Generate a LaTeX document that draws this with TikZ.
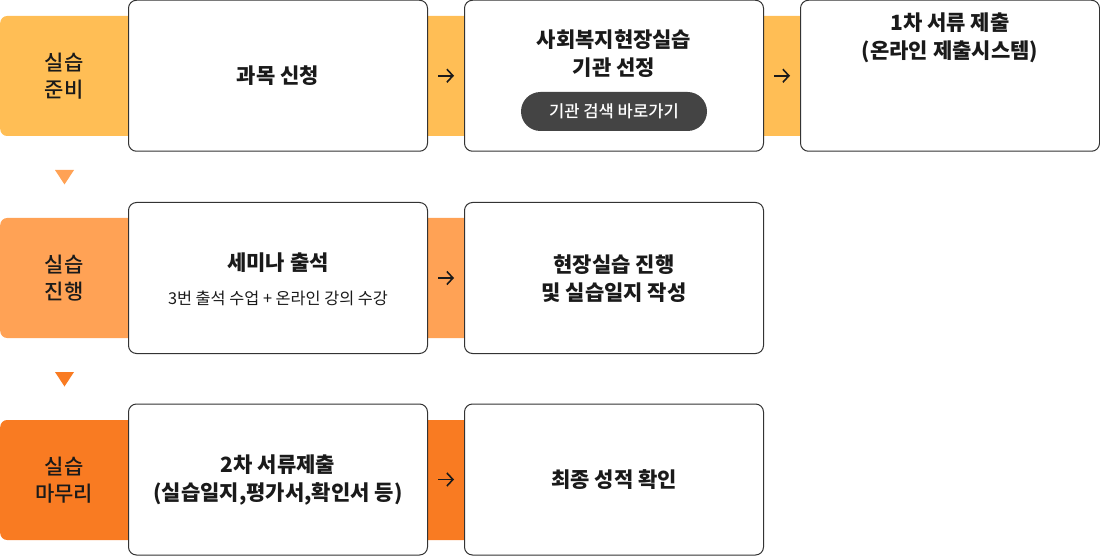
\documentclass[tikz,border=0pt]{standalone}
\usepackage{fontspec}
\setmainfont{Noto Sans CJK KR}
\newfontfamily\medfont{Noto Sans CJK KR Medium}
\usetikzlibrary{arrows.meta}
\definecolor{cA}{HTML}{FFBE55}
\definecolor{cB}{HTML}{FFA255}
\definecolor{cC}{HTML}{F97B22}
\definecolor{ink}{HTML}{1A1A1A}
\definecolor{edge}{HTML}{333333}
\definecolor{btn}{HTML}{444444}
\tikzset{
  band/.style={rounded corners=7pt, minimum height=120pt, inner sep=0pt, anchor=west},
  stepbox/.style={draw=edge, line width=1pt, fill=white, rounded corners=8pt,
    minimum width=299pt, minimum height=151pt, inner sep=0pt},
  title/.style={font=\fontsize{21pt}{28pt}\selectfont\bfseries, text=ink, align=center, inner sep=0pt},
  sub/.style={font=\fontsize{16.3pt}{18pt}\selectfont, text=ink, align=center, inner sep=0pt},
  lab/.style={font=\fontsize{21pt}{27pt}\selectfont\medfont, text=ink, align=center, inner sep=0pt},
  arr/.style={-{Straight Barb[length=6pt,width=13pt]}, line width=1.6pt, draw=ink},
  pill/.style={fill=btn, rounded corners=19.5pt, minimum width=186pt, minimum height=39pt,
    inner sep=0pt, text=white, font=\fontsize{16.6pt}{18pt}\selectfont\medfont},
}
\begin{document}
\begin{tikzpicture}[x=1pt,y=-1pt]
\useasboundingbox (0,0) rectangle (1100,556);
% bands
\node[band, fill=cA, minimum width=820pt] (band1) at (0,76) {};
\node[band, fill=cB, minimum width=480pt] (band2) at (0,278) {};
\node[band, fill=cC, minimum width=480pt] (band3) at (0,480) {};
% band labels
\node[lab] (lab1) at (64,76) {실습\\준비};
\node[lab] (lab2) at (64,278) {실습\\진행};
\node[lab] (lab3) at (64,480) {실습\\마무리};
% triangles
\fill[cB] (55,170) -- (74,170) -- (64.5,184.5) -- cycle;
\fill[cC] (55,372) -- (74,372) -- (64.5,386.5) -- cycle;
% row 1
\node[stepbox] (b11) at (278,75.75) {};
\node[stepbox] (b12) at (614,75.75) {};
\node[stepbox] (b13) at (950,75.75) {};
\node[title] (t11) at (b11.center) {과목 신청};
\node[title] (t12) at (614,54) {사회복지현장실습\\기관 선정};
\node[pill] (p12) at (614,111.5) {기관 검색 바로가기};
\node[title] (t13) at (950,38) {1차 서류 제출\\(온라인 제출시스템)};
\draw[arr] ([xshift=10pt]b11.east) -- ([xshift=-10pt]b12.west);
\draw[arr] ([xshift=10pt]b12.east) -- ([xshift=-10pt]b13.west);
% row 2
\node[stepbox] (b21) at (278,278) {};
\node[stepbox] (b22) at (614,278) {};
\node[title] (t21) at (278,263) {세미나 출석};
\node[sub] (s21) at (278,298) {3번 출석 수업 + 온라인 강의 수강};
\node[title] (t22) at (614,278.5) {현장실습 진행\\및 실습일지 작성};
\draw[arr] ([xshift=10pt]b21.east) -- ([xshift=-10pt]b22.west);
% row 3
\node[stepbox] (b31) at (278,479.5) {};
\node[stepbox] (b32) at (614,479.5) {};
\node[title] (t31) at (278,480) {2차 서류제출\\(실습일지,평가서,확인서 등)};
\node[title] (t32) at (614,480) {최종 성적 확인};
\draw[arr] ([xshift=10pt]b31.east) -- ([xshift=-10pt]b32.west);
\end{tikzpicture}
\end{document}
